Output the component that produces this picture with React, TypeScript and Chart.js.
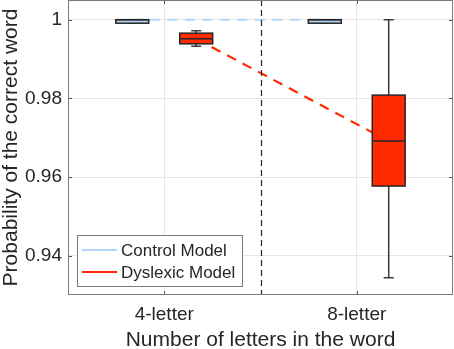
import React, { useEffect, useRef } from "react";
import { Chart, registerables } from "chart.js";

Chart.register(...registerables);

// ---- data ----
const categories = ["4-letter", "8-letter"];
const seriesNames = ["Control Model", "Dyslexic Model"];
const yTicks = [0.94, 0.96, 0.98, 1];
const yTickLabels = ["0.94", "0.96", "0.98", "1"];

// Control model box stats per category
const controlLow = [0.9991, 0.9991];
const controlQ1 = [0.9991, 0.9991];
const controlMedian = [0.99995, 0.99995];
const controlQ3 = [1.0, 1.0];
const controlHigh = [1.0, 1.0];

// Dyslexic model box stats per category
const dyslexicLow = [0.99325, 0.9344];
const dyslexicQ1 = [0.99386, 0.9577];
const dyslexicMedian = [0.99514, 0.96913];
const dyslexicQ3 = [0.99657, 0.98082];
const dyslexicHigh = [0.99719, 0.99995];

// ---- style ----
const W = 454;
const H = 349;
const FONT = "'Liberation Sans', Arial, Helvetica, sans-serif";
const TEXT = "#262626";
const CONTROL_COLOR = "#b3d3f5";
const CONTROL_LINE = "#b3d6f8";
const DYS_COLOR = "#ff2a00";
const DYS_LINE = "#ff2a00";
const OFFSET = 0.166;
const BOX_W = 0.171;

const boxPlugin = {
  id: "boxes",
  afterDatasetsDraw(chart: any) {
    const { ctx, chartArea, scales } = chart;
    const xs = scales.x;
    const ys = scales.y;
    ctx.save();
    ctx.beginPath();
    ctx.rect(chartArea.left, chartArea.top, chartArea.right - chartArea.left, chartArea.bottom - chartArea.top);
    ctx.clip();

    // vertical divider
    const xm = Math.round(xs.getPixelForValue(1.5)) + 0.5;
    ctx.strokeStyle = "#262626";
    ctx.lineWidth = 1.2;
    ctx.setLineDash([6, 4]);
    ctx.beginPath();
    ctx.moveTo(xm, chartArea.top);
    ctx.lineTo(xm, chartArea.bottom);
    ctx.stroke();
    ctx.setLineDash([]);

    const groups = [
      { off: -OFFSET, low: controlLow, q1: controlQ1, med: controlMedian, q3: controlQ3, high: controlHigh, fill: CONTROL_COLOR },
      { off: OFFSET, low: dyslexicLow, q1: dyslexicQ1, med: dyslexicMedian, q3: dyslexicQ3, high: dyslexicHigh, fill: DYS_COLOR },
    ];
    groups.forEach((g) => {
      categories.forEach((_, i) => {
        const cx = xs.getPixelForValue(i + 1 + g.off);
        const x0 = xs.getPixelForValue(i + 1 + g.off - BOX_W / 2);
        const x1 = xs.getPixelForValue(i + 1 + g.off + BOX_W / 2);
        const yLow = ys.getPixelForValue(g.low[i]);
        const yQ1 = ys.getPixelForValue(g.q1[i]);
        const yMed = ys.getPixelForValue(g.med[i]);
        const yQ3 = ys.getPixelForValue(g.q3[i]);
        const yHigh = ys.getPixelForValue(g.high[i]);
        // whiskers
        ctx.strokeStyle = "#3a3a3a";
        ctx.lineWidth = 1.5;
        ctx.beginPath();
        ctx.moveTo(cx, yHigh);
        ctx.lineTo(cx, yQ3);
        ctx.moveTo(cx, yQ1);
        ctx.lineTo(cx, yLow);
        ctx.moveTo(cx - 5, yHigh);
        ctx.lineTo(cx + 5, yHigh);
        ctx.moveTo(cx - 5, yLow);
        ctx.lineTo(cx + 5, yLow);
        ctx.stroke();
        // box
        ctx.fillStyle = g.fill;
        ctx.fillRect(x0, yQ3, x1 - x0, yQ1 - yQ3);
        ctx.strokeStyle = "#262626";
        ctx.lineWidth = 1.5;
        ctx.strokeRect(x0, yQ3, x1 - x0, yQ1 - yQ3);
        // median
        ctx.beginPath();
        ctx.moveTo(x0, yMed);
        ctx.lineTo(x1, yMed);
        ctx.stroke();
      });
    });
    ctx.restore();

    // inner tick marks
    ctx.save();
    ctx.strokeStyle = "#555";
    ctx.lineWidth = 1;
    yTicks.forEach((v) => {
      const y = Math.round(ys.getPixelForValue(v)) + 0.5;
      ctx.beginPath();
      ctx.moveTo(chartArea.left, y);
      ctx.lineTo(chartArea.left + 4, y);
      ctx.moveTo(chartArea.right, y);
      ctx.lineTo(chartArea.right - 4, y);
      ctx.stroke();
    });
    categories.forEach((_, i) => {
      const x = Math.round(xs.getPixelForValue(i + 1)) + 0.5;
      ctx.beginPath();
      ctx.moveTo(x, chartArea.bottom);
      ctx.lineTo(x, chartArea.bottom - 4);
      ctx.moveTo(x, chartArea.top);
      ctx.lineTo(x, chartArea.top + 4);
      ctx.stroke();
    });
    // axes box
    ctx.strokeStyle = "#7a7a7a";
    ctx.lineWidth = 1;
    ctx.strokeRect(
      Math.round(chartArea.left) + 0.5,
      Math.round(chartArea.top) + 0.5,
      Math.round(chartArea.right - chartArea.left) - 1,
      Math.round(chartArea.bottom - chartArea.top) - 1
    );

    // legend
    const lx = Math.round(chartArea.left) + 9;
    const ly = Math.round(chartArea.bottom) - 60;
    const lw = 165;
    const lh = 51;
    ctx.fillStyle = "#ffffff";
    ctx.fillRect(lx, ly, lw, lh);
    ctx.strokeStyle = "#7a7a7a";
    ctx.strokeRect(lx + 0.5, ly + 0.5, lw, lh);
    const colors = [CONTROL_LINE, DYS_LINE];
    seriesNames.forEach((name, i) => {
      const y = ly + 15 + i * 22;
      ctx.strokeStyle = colors[i];
      ctx.lineWidth = 2;
      ctx.beginPath();
      ctx.moveTo(lx + 5, y);
      ctx.lineTo(lx + 40, y);
      ctx.stroke();
      ctx.fillStyle = TEXT;
      ctx.font = `17px ${FONT}`;
      ctx.textBaseline = "middle";
      ctx.textAlign = "left";
      ctx.fillText(name, lx + 44, y + 1);
    });
    ctx.restore();
  },
};

export default function App() {
  const ref = useRef<HTMLCanvasElement | null>(null);
  useEffect(() => {
    if (!ref.current) return;
    const chart = new Chart(ref.current, {
      type: "line",
      data: {
        datasets: [
          {
            label: seriesNames[0],
            data: categories.map((_, i) => ({ x: i + 1 - OFFSET, y: controlMedian[i] })),
            borderColor: CONTROL_LINE,
            borderWidth: 2,
            borderDash: [10, 7.5],
            pointRadius: 0,
            fill: false,
          },
          {
            label: seriesNames[1],
            data: categories.map((_, i) => ({ x: i + 1 + OFFSET, y: dyslexicMedian[i] })),
            borderColor: DYS_LINE,
            borderWidth: 2.2,
            borderDash: [10, 7.5],
            pointRadius: 0,
            fill: false,
          },
        ],
      },
      options: {
        animation: false,
        responsive: false,
        maintainAspectRatio: false,
        layout: { autoPadding: false, padding: { left: 0, right: 1, top: 0, bottom: 0 } },
        plugins: { legend: { display: false }, tooltip: { enabled: false } },
        scales: {
          x: {
            type: "linear",
            min: 0.5,
            max: 2.5,
            afterBuildTicks: (s: any) => {
              s.ticks = categories.map((_, i) => ({ value: i + 1 }));
            },
            afterFit: (s: any) => {
              s.paddingLeft = 0;
              s.paddingRight = 0;
              s.height = 54;
            },
            ticks: {
              callback: (v: any) => categories[Math.round(Number(v)) - 1] ?? "",
              font: { family: FONT, size: 19 },
              color: TEXT,
              padding: 8,
              autoSkip: false,
              maxRotation: 0,
            },
            grid: { color: "#e6e6e6", drawTicks: false, tickLength: 0 },
            border: { display: false },
            title: {
              display: true,
              text: "Number of letters in the word",
              font: { family: FONT, size: 21, lineHeight: 0.84 },
              color: TEXT,
              padding: { top: 0, bottom: 0 },
            },
          },
          y: {
            type: "linear",
            min: 0.93,
            max: 1.005,
            afterBuildTicks: (s: any) => {
              s.ticks = yTicks.map((v) => ({ value: v }));
            },
            afterFit: (s: any) => {
              s.paddingTop = 0;
              s.paddingBottom = 0;
              s.width = 68;
            },
            ticks: {
              callback: (_v: any, i: number) => yTickLabels[i],
              font: { family: FONT, size: 19 },
              color: TEXT,
              padding: 6,
            },
            grid: { color: "#e6e6e6", drawTicks: false, tickLength: 0 },
            border: { display: false },
            title: {
              display: true,
              text: "Probability of the correct word",
              font: { family: FONT, size: 21, lineHeight: 1.05 },
              color: TEXT,
              padding: { top: 0, bottom: 0 },
            },
          },
        },
      },
      plugins: [boxPlugin],
    });
    return () => chart.destroy();
  }, []);
  return (
    <div style={{ position: "fixed", left: 0, top: 0, width: W, height: H, background: "#fff" }}>
      <canvas ref={ref} width={W} height={H} style={{ width: W, height: H }} />
    </div>
  );
}
